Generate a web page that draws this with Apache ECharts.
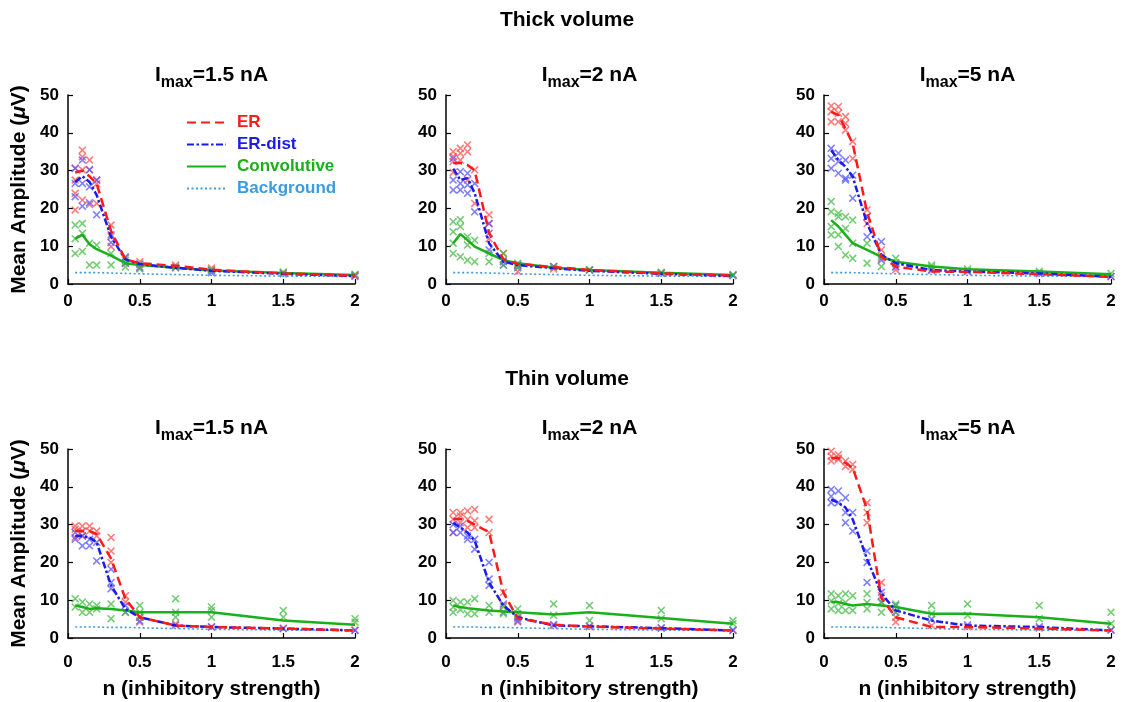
<!DOCTYPE html>
<html><head><meta charset="utf-8">
<script src="https://cdn.jsdelivr.net/npm/echarts@6/dist/echarts.min.js"></script>
<style>html,body{margin:0;padding:0;background:#fff}#c{width:1127px;height:702px}</style>
</head><body><div id="c"></div>
<script>
// ---------- data ----------
const nVals = [0.05, 0.1, 0.15, 0.2, 0.3, 0.4, 0.5, 0.75, 1, 1.5, 2];
const xTicks = [0, 0.5, 1, 1.5, 2];
const yTicks = [0, 10, 20, 30, 40, 50];
const rowTitles = ['Thick volume', 'Thin volume'];
const currents = ['1.5 nA', '2 nA', '5 nA'];
const seriesNames = ['ER', 'ER-dist', 'Convolutive', 'Background'];

// Thick volume, Imax = 1.5 nA
const thick15_ER   = [29.5, 30, 28.5, 26.5, 14, 6.5, 5.5, 4.8, 3.8, 2.8, 2.2];
const thick15_ERd  = [27, 28.5, 27, 23.5, 12.5, 6.5, 5.3, 4.3, 3.5, 2.7, 2.1];
const thick15_Conv = [12, 13, 10.5, 9.2, 7.5, 5.5, 5, 4.3, 3.6, 2.9, 2.4];
const thick15_Bg   = [3, 3, 3, 3, 2.9, 2.8, 2.7, 2.5, 2.3, 2.1, 2.0];
const thick15_ER_pts = [[0.05,30.6],[0.05,27.5],[0.05,19.6],[0.05,24],[0.1,35.4],[0.1,33.6],[0.1,30.2],[0.1,22.2],[0.15,32.8],[0.15,30.2],[0.15,21],[0.2,27.5],[0.2,26.5],[0.2,21.3],[0.3,15.6],[0.3,12.5],[0.3,9.9],[0.4,6.8],[0.4,5.5],[0.5,5.9],[0.5,4.5],[0.75,5.0],[0.75,4.2],[1,3.7],[1,4.2],[1.5,3.0],[2,2.4],[2,2.0]];
const thick15_ERd_pts = [[0.05,30.6],[0.05,26.6],[0.05,23.1],[0.1,32.8],[0.1,26.6],[0.1,20.6],[0.15,30.2],[0.15,25.7],[0.15,21.5],[0.2,27.5],[0.2,18.3],[0.3,13],[0.3,11],[0.4,7.2],[0.4,5.5],[0.5,5.3],[0.5,4.2],[0.75,4.4],[1,3.5],[1,3.0],[1.5,2.7],[2,2.2]];
const thick15_Conv_pts = [[0.05,15.6],[0.05,12],[0.05,8.1],[0.1,16],[0.1,13.4],[0.1,8.6],[0.15,10.8],[0.15,5.0],[0.2,10.3],[0.2,5.0],[0.3,8.1],[0.3,5.0],[0.4,6.3],[0.4,4.5],[0.5,5.2],[0.5,4.0],[0.75,4.5],[1,3.8],[1.5,3.2],[2,2.6]];

// Thick volume, Imax = 2 nA
const thick2_ER   = [32, 32, 31.5, 30, 13.5, 6.5, 5.3, 4.5, 3.7, 2.8, 2.2];
const thick2_ERd  = [30.5, 27.5, 28, 24, 10.8, 5.9, 5.0, 4.2, 3.5, 2.7, 2.1];
const thick2_Conv = [10.8, 13.2, 11.6, 9.9, 8.1, 6.3, 5.5, 4.3, 3.7, 3.0, 2.4];
const thick2_Bg   = [3, 3, 3, 3, 2.9, 2.8, 2.7, 2.5, 2.3, 2.1, 2.0];
const thick2_ER_pts = [[0.05,35],[0.05,33.7],[0.05,32.4],[0.05,29.5],[0.1,35.9],[0.1,34.6],[0.1,32.8],[0.15,36.8],[0.15,35],[0.15,27.5],[0.2,30.2],[0.2,21.3],[0.3,18.3],[0.3,16],[0.3,12],[0.4,8.1],[0.4,6.3],[0.5,5],[0.5,3.3],[0.75,4.6],[0.75,4.0],[1,3.7],[1.5,3.0],[2,2.4]];
const thick2_ERd_pts = [[0.05,33.2],[0.05,27.5],[0.05,24.9],[0.1,29.7],[0.1,26.6],[0.1,24.9],[0.15,29.3],[0.15,26.2],[0.15,24],[0.2,26.6],[0.2,19.1],[0.3,16],[0.3,13.4],[0.3,9],[0.4,5.9],[0.4,5],[0.5,5],[0.5,4.3],[0.75,4.6],[1,3.7],[1.5,2.8],[2,2.2]];
const thick2_Conv_pts = [[0.05,16.5],[0.05,13.8],[0.05,10.8],[0.05,8.1],[0.1,17],[0.1,15.2],[0.1,7.2],[0.15,12.5],[0.15,10.3],[0.15,6.3],[0.2,11.6],[0.2,5.9],[0.3,8.1],[0.3,5.9],[0.4,8.1],[0.4,5.0],[0.5,5.5],[0.5,4.5],[0.75,4.5],[1,3.8],[1.5,3.1],[2,2.5]];

// Thick volume, Imax = 5 nA
const thick5_ER   = [45.6, 44.7, 41, 37.2, 19, 7.2, 4.6, 3.3, 3.2, 2.6, 1.9];
const thick5_ERd  = [35.4, 32.8, 31, 28.4, 16, 7.7, 5.5, 3.7, 3.3, 2.8, 1.9];
const thick5_Conv = [16.9, 15.2, 13, 10.8, 9, 7.2, 5.9, 4.6, 3.9, 3.3, 2.6];
const thick5_Bg   = [3, 3, 3, 3, 2.9, 2.8, 2.7, 2.5, 2.3, 2.1, 2.0];
const thick5_ER_pts = [[0.05,47.1],[0.05,45.6],[0.05,42.9],[0.1,46.9],[0.1,45.2],[0.1,42.9],[0.15,44.3],[0.15,42.5],[0.15,40.7],[0.2,37.7],[0.2,33.2],[0.3,19.6],[0.3,17.8],[0.3,16],[0.4,9],[0.4,6.8],[0.5,4.6],[0.5,3.8],[0.75,3.6],[1,3.3],[1.5,2.7],[2,2.0]];
const thick5_ERd_pts = [[0.05,35.9],[0.05,33.2],[0.05,30.6],[0.1,34.6],[0.1,32.4],[0.1,29.3],[0.15,32.8],[0.15,28],[0.15,27.5],[0.2,28.8],[0.2,22.7],[0.3,17.8],[0.3,12.5],[0.4,11.2],[0.4,6.3],[0.5,5.5],[0.5,4.5],[0.75,3.8],[1,3.4],[1.5,2.9],[2,2.0]];
const thick5_Conv_pts = [[0.05,21.8],[0.05,19.1],[0.05,15.2],[0.05,13],[0.1,18.7],[0.1,17.8],[0.1,13],[0.1,9.9],[0.15,17.8],[0.15,14.7],[0.15,7.7],[0.2,16.9],[0.2,10.8],[0.2,6.8],[0.3,10.8],[0.3,5.5],[0.4,7.2],[0.4,4.6],[0.5,6.8],[0.5,5.6],[0.75,5],[0.75,4.5],[1,4.0],[1.5,3.4],[2,2.8]];

// Thin volume, Imax = 1.5 nA
const thin15_ER   = [28.3, 28.3, 28.3, 27.5, 21, 10.4, 5.5, 3.3, 2.9, 2.5, 2.0];
const thin15_ERd  = [27, 27, 26.6, 25.3, 13.9, 7.7, 5.5, 3.3, 2.9, 2.5, 2.0];
const thin15_Conv = [8.6, 8.2, 7.7, 7.9, 7.7, 7.3, 6.8, 6.8, 6.8, 4.6, 3.5];
const thin15_Bg   = [2.9, 2.9, 2.9, 2.9, 2.8, 2.8, 2.7, 2.5, 2.3, 2.1, 2.0];
const thin15_ER_pts = [[0.05,29.6],[0.05,28.8],[0.05,26.6],[0.1,29.6],[0.1,28.3],[0.1,27],[0.15,29.6],[0.15,28.3],[0.2,28.3],[0.2,27],[0.3,26.6],[0.3,23],[0.3,20],[0.4,11.2],[0.4,9.5],[0.5,5.5],[0.5,4.2],[0.75,3.8],[1,3.0],[1.5,2.6],[2,2.1]];
const thin15_ERd_pts = [[0.05,27.9],[0.05,26.1],[0.1,27],[0.1,24.4],[0.15,26.1],[0.15,24.4],[0.2,25.3],[0.2,20.4],[0.3,18.2],[0.3,14.7],[0.3,13],[0.4,8.6],[0.4,6.8],[0.5,5.5],[0.5,4.5],[0.75,3.4],[1,2.9],[1.5,2.5],[2,2.0]];
const thin15_Conv_pts = [[0.05,10.4],[0.05,8.2],[0.1,9.5],[0.1,6.8],[0.15,9],[0.15,6.8],[0.2,8.6],[0.2,7.7],[0.3,9],[0.3,5.1],[0.4,6.8],[0.5,8.6],[0.5,6.8],[0.5,5.5],[0.75,10.4],[0.75,6.8],[0.75,5.5],[1,8.2],[1,7.3],[1,5.5],[1.5,7.3],[1.5,5.5],[2,5.1],[2,4.2]];

// Thin volume, Imax = 2 nA
const thin2_ER   = [31.5, 31.5, 31, 30, 28, 12, 5.2, 3.5, 3.0, 2.5, 2.0];
const thin2_ERd  = [30.5, 29.2, 27.9, 25.7, 14.7, 8.6, 5.5, 3.3, 3.1, 2.6, 2.0];
const thin2_Conv = [8.6, 8.2, 7.9, 7.7, 7.3, 7.0, 6.8, 6.2, 6.8, 5.3, 3.8];
const thin2_Bg   = [2.9, 2.9, 2.9, 2.9, 2.8, 2.8, 2.7, 2.5, 2.3, 2.1, 2.0];
const thin2_ER_pts = [[0.05,33.2],[0.05,31.4],[0.05,27.9],[0.1,33.2],[0.1,32.3],[0.1,30.5],[0.15,33.6],[0.15,31.4],[0.15,29.2],[0.2,34],[0.2,31],[0.2,29.2],[0.3,31.4],[0.3,27.9],[0.4,12.1],[0.4,8.6],[0.5,5.1],[0.5,4.2],[0.75,3.3],[1,3.0],[1.5,2.6],[2,2.0]];
const thin2_ERd_pts = [[0.05,30],[0.05,27.9],[0.1,29.6],[0.1,27.9],[0.15,27],[0.15,26.1],[0.2,26.1],[0.2,23.5],[0.3,20],[0.3,15.6],[0.3,13.9],[0.4,9],[0.4,6.8],[0.5,5.5],[0.5,4.5],[0.75,3.6],[1,3.2],[1.5,2.7],[2,2.1]];
const thin2_Conv_pts = [[0.05,9.9],[0.05,8.2],[0.05,6.8],[0.1,9.5],[0.1,7.5],[0.15,9.5],[0.15,6.4],[0.2,10.4],[0.2,6.4],[0.3,8.6],[0.3,6.8],[0.4,8.2],[0.4,6.4],[0.5,7.7],[0.5,6.4],[0.75,9],[0.75,6],[1,8.6],[1,4.6],[1.5,7.3],[1.5,5.1],[2,4.6],[2,3.8]];

// Thin volume, Imax = 5 nA
const thin5_ER   = [47.6, 47.6, 46.3, 45, 34, 10.5, 5.5, 2.9, 2.9, 2.5, 2.0];
const thin5_ERd  = [36.7, 35.8, 34.5, 31.4, 20.9, 11.7, 7.3, 4.6, 3.3, 2.9, 2.0];
const thin5_Conv = [9.5, 9.5, 9, 8.6, 9, 8.6, 8.2, 6.4, 6.4, 5.5, 3.8];
const thin5_Bg   = [2.9, 2.9, 2.9, 2.9, 2.8, 2.8, 2.7, 2.5, 2.3, 2.1, 2.0];
const thin5_ER_pts = [[0.05,49.4],[0.05,48.1],[0.05,46.8],[0.1,48.5],[0.1,47.6],[0.1,47.2],[0.15,46.8],[0.15,45.4],[0.2,45.9],[0.2,44.6],[0.3,35.8],[0.3,33.2],[0.3,30.5],[0.4,14.7],[0.4,11.2],[0.5,5.5],[0.5,4.2],[0.75,3.3],[1,3.0],[1.5,2.6],[2,2.1]];
const thin5_ERd_pts = [[0.05,39.3],[0.05,37.5],[0.05,35.8],[0.1,38.9],[0.1,35.8],[0.15,37.1],[0.15,33.2],[0.15,30.5],[0.2,33.2],[0.2,28.3],[0.3,23],[0.3,20],[0.3,14.7],[0.4,12.1],[0.4,9.5],[0.5,8.6],[0.5,6.8],[0.75,5],[1,3.5],[1.5,3.0],[2,2.1]];
const thin5_Conv_pts = [[0.05,11.7],[0.05,9.8],[0.05,7.7],[0.1,11.2],[0.1,9.1],[0.1,7.3],[0.15,11.7],[0.15,9.4],[0.15,7.3],[0.2,11.2],[0.2,7.3],[0.3,11.7],[0.3,9.4],[0.3,7.7],[0.4,9.4],[0.4,6.8],[0.5,9],[0.5,6.8],[0.75,8.6],[0.75,6.4],[1,9],[1,6],[1.5,8.6],[1.5,5.1],[2,6.8],[2,3.8]];

// ---------- assembly ----------
const panels = [
  {row:0, col:0, ER:thick15_ER, ERd:thick15_ERd, Conv:thick15_Conv, Bg:thick15_Bg, ERp:thick15_ER_pts, ERdp:thick15_ERd_pts, Convp:thick15_Conv_pts},
  {row:0, col:1, ER:thick2_ER,  ERd:thick2_ERd,  Conv:thick2_Conv,  Bg:thick2_Bg,  ERp:thick2_ER_pts,  ERdp:thick2_ERd_pts,  Convp:thick2_Conv_pts},
  {row:0, col:2, ER:thick5_ER,  ERd:thick5_ERd,  Conv:thick5_Conv,  Bg:thick5_Bg,  ERp:thick5_ER_pts,  ERdp:thick5_ERd_pts,  Convp:thick5_Conv_pts},
  {row:1, col:0, ER:thin15_ER,  ERd:thin15_ERd,  Conv:thin15_Conv,  Bg:thin15_Bg,  ERp:thin15_ER_pts,  ERdp:thin15_ERd_pts,  Convp:thin15_Conv_pts},
  {row:1, col:1, ER:thin2_ER,   ERd:thin2_ERd,   Conv:thin2_Conv,   Bg:thin2_Bg,   ERp:thin2_ER_pts,   ERdp:thin2_ERd_pts,   Convp:thin2_Conv_pts},
  {row:1, col:2, ER:thin5_ER,   ERd:thin5_ERd,   Conv:thin5_Conv,   Bg:thin5_Bg,   ERp:thin5_ER_pts,   ERdp:thin5_ERd_pts,   Convp:thin5_Conv_pts}
];

const FONT = '"Liberation Sans", Arial, Helvetica, sans-serif';
const gridLefts = [68, 446, 824];
const gridW = 287;
const gridTops = [95, 449];
const gridH = 189;
const rowTitleTops = [10, 369];
const panelTitleTops = [59, 412];
const xLabelMargins = [9, 16];
const xNameGaps = [30, 41];

const C = {ER:'#ff1a1a', ERd:'#1a1aee', Conv:'#19b019', Bg:'#3d9be0'};
const P = {ER:'#ff5050', ERd:'#5555ff', Conv:'#45bb45'};
const XSYM = 'path://M0,1.4L1.4,0L10,8.6L8.6,10Z M8.6,0L10,1.4L1.4,10L0,8.6Z';

const grids = [], xAxes = [], yAxes = [], series = [], titles = [];

rowTitles.forEach((t, r) => {
  titles.push({text: t, left: 567, top: rowTitleTops[r], textAlign: 'center', padding: 0,
    textStyle: {fontFamily: FONT, fontSize: 21, fontWeight: 'bold', color: '#000'}});
});

panels.forEach((p, i) => {
  const left = gridLefts[p.col], top = gridTops[p.row];
  grids.push({left: left, top: top, width: gridW, height: gridH, containLabel: false});
  titles.push({
    text: '{a|I}{s|max}{a|=' + currents[p.col] + '}',
    left: left + gridW / 2, top: panelTitleTops[p.row], textAlign: 'center', padding: 0,
    textStyle: {rich: {
      a: {fontFamily: FONT, fontSize: 21, fontWeight: 'bold', color: '#000'},
      s: {fontFamily: FONT, fontSize: 16, fontWeight: 'bold', color: '#000', padding: [16, 0, 0, 0]}
    }}
  });
  xAxes.push({
    gridIndex: i, type: 'value', min: xTicks[0], max: xTicks[xTicks.length - 1], interval: xTicks[1] - xTicks[0],
    axisLine: {show: true, lineStyle: {color: '#000', width: 1.5}},
    axisTick: {show: true, inside: true, length: 5, lineStyle: {color: '#000', width: 1.2}},
    axisLabel: {fontFamily: FONT, fontSize: 17, fontWeight: 'bold', color: '#000', margin: xLabelMargins[p.row]},
    splitLine: {show: false},
    name: p.row === 1 ? 'n (inhibitory strength)' : '',
    nameLocation: 'middle', nameGap: xNameGaps[p.row],
    nameTextStyle: {fontFamily: FONT, fontSize: 21, fontWeight: 'bold', color: '#000'}
  });
  yAxes.push({
    gridIndex: i, type: 'value', min: yTicks[0], max: yTicks[yTicks.length - 1], interval: yTicks[1] - yTicks[0],
    axisLine: {show: true, lineStyle: {color: '#000', width: 1.5}},
    axisTick: {show: true, inside: true, length: 5, lineStyle: {color: '#000', width: 1.2}},
    axisLabel: {fontFamily: FONT, fontSize: 17, fontWeight: 'bold', color: '#000', margin: 9},
    splitLine: {show: false},
    name: p.col === 0 ? 'Mean Amplitude ({i|μ}V)' : '',
    nameLocation: 'middle', nameGap: 38, nameRotate: 90,
    nameTextStyle: {fontFamily: FONT, fontSize: 21, fontWeight: 'bold', color: '#000',
      rich: {i: {fontFamily: FONT, fontSize: 21, fontWeight: 'bold', fontStyle: 'italic', color: '#000'}}}
  });
  const sc = (name, data, col) => ({
    name: name, type: 'scatter', xAxisIndex: i, yAxisIndex: i, data: data,
    symbol: XSYM, symbolSize: 8, itemStyle: {color: col, opacity: 0.75}, silent: true, z: 2
  });
  series.push(sc('ER samples', p.ERp, P.ER));
  series.push(sc('ER-dist samples', p.ERdp, P.ERd));
  series.push(sc('Convolutive samples', p.Convp, P.Conv));
  const ln = (name, vals, col, type, w) => ({
    name: name, type: 'line', xAxisIndex: i, yAxisIndex: i,
    data: nVals.map((x, k) => [x, vals[k]]),
    showSymbol: false, symbol: 'none', lineStyle: {color: col, width: w, type: type},
    itemStyle: {color: col}, silent: true, z: 3, animation: false
  });
  series.push(ln('Background', p.Bg, C.Bg, [2, 2.5], 1.6));
  series.push(ln('Convolutive', p.Conv, C.Conv, 'solid', 2.5));
  series.push(ln('ER-dist', p.ERd, C.ERd, [7, 2.5, 2.5, 2.5], 2.5));
  series.push(ln('ER', p.ER, C.ER, [9, 5], 2.5));
});

const legendColors = [C.ER, C.ERd, C.Conv, C.Bg];
const option = {
  backgroundColor: '#fff',
  animation: false,
  title: titles,
  grid: grids,
  xAxis: xAxes,
  yAxis: yAxes,
  legend: {
    orient: 'vertical', left: 186, top: 114, padding: 0,
    itemWidth: 39, itemHeight: 14, itemGap: 5,
    data: seriesNames.map((n, k) => ({name: n, textStyle: {color: legendColors[k]}})),
    textStyle: {fontFamily: FONT, fontSize: 17, fontWeight: 'bold', padding: [0, 0, 0, 6]},
    itemStyle: {color: 'rgba(0,0,0,0)', borderWidth: 0, opacity: 0},
    selectedMode: false
  },
  series: series
};
const chart = echarts.init(document.getElementById('c'), null, {renderer: 'canvas'});
chart.setOption(option);
</script>
</body></html>
